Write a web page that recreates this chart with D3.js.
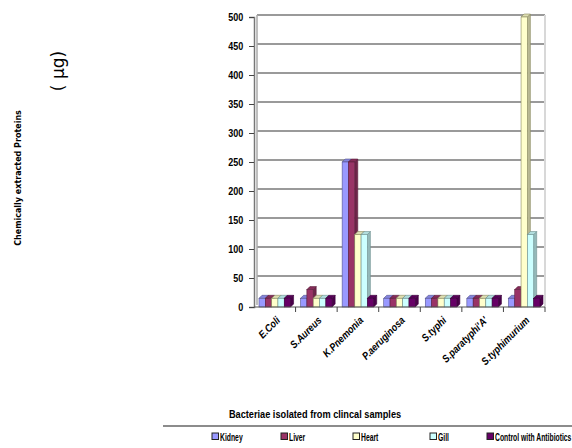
<!DOCTYPE html>
<html>
<head>
<meta charset="utf-8">
<script src="https://cdn.jsdelivr.net/npm/d3@7"></script>
<style>
body { margin: 0; background: #fff; }
text { font-family: "Liberation Sans", Arial, sans-serif; }
.tick text { font-size: 10px; font-weight: bold; fill: #000; }
.xlab { font-size: 10.5px; font-weight: bold; font-style: italic; }
.leg { font-size: 10px; font-weight: bold; }
</style>
</head>
<body>
<div id="chart"></div>
<script>
var categories = ["E.Coli", "S.Aureus", "K.Pnemonia", "P.aeruginosa", "S.typhi", "S.paratyphi'A'", "S.typhimurium"];
var seriesNames = ["Kidney", "Liver", "Heart", "Gill", "Control with Antibiotics"];
var kidney  = [15, 15, 250, 15, 15, 15, 15];
var liver   = [15, 30, 250, 15, 15, 15, 30];
var heart   = [15, 15, 125, 15, 15, 15, 500];
var gill    = [15, 15, 125, 15, 15, 15, 125];
var control = [15, 15, 15, 15, 15, 15, 15];
var yTicks = [0, 50, 100, 150, 200, 250, 300, 350, 400, 450, 500];

var series = [kidney, liver, heart, gill, control];
var colors = ["#9999ff", "#993366", "#ffffcc", "#ccffff", "#660066"];
var edges  = ["#55558f", "#5a1e3c", "#8a8a60", "#6e9090", "#3a003a"];

var W = 572, H = 448;
var x0 = 254, x1 = 545, yb = 307, yt = 17;
var d = 3; // 3d depth

var svg = d3.select("#chart").append("svg").attr("width", W).attr("height", H);

var x = d3.scaleBand().domain(categories).range([x0, x1]);
var inner = d3.scaleBand().domain(d3.range(series.length))
	.range([5, x.bandwidth() - 5]).paddingInner(0);
var y = d3.scaleLinear().domain([0, 500]).range([yb, yt]);

// back wall gridlines
svg.append("g").selectAll("line").data(yTicks.slice(1)).join("line")
	.attr("x1", x0 + d).attr("x2", x1)
	.attr("y1", function(v) { return y(v) - 2; })
	.attr("y2", function(v) { return y(v) - 2; })
	.attr("stroke", "#9a9a9a").attr("stroke-width", 2);
svg.append("line").attr("x1", x1).attr("x2", x1).attr("y1", y(500) - 2).attr("y2", yb)
	.attr("stroke", "#d8d8d8").attr("stroke-width", 2);
svg.append("line").attr("x1", x0 + d).attr("x2", x0 + d).attr("y1", y(500) - 2).attr("y2", yb - 2)
	.attr("stroke", "#aaa").attr("stroke-width", 1.5);

// bars
var g = svg.append("g");
categories.forEach(function(c, ci) {
	series.forEach(function(s, si) {
		var bx = x(c) + inner(si), bw = inner.bandwidth(), top = y(s[ci]);
		g.append("path")
			.attr("d", "M" + (bx + bw) + "," + yb + "L" + (bx + bw) + "," + top +
				"L" + (bx + bw + d) + "," + (top - d) + "L" + (bx + bw + d) + "," + (yb - d) + "Z")
			.attr("fill", d3.color(colors[si]).darker(0.9)).attr("stroke", edges[si]).attr("stroke-width", 0.6);
		g.append("path")
			.attr("d", "M" + bx + "," + top + "L" + (bx + d) + "," + (top - d) +
				"L" + (bx + bw + d) + "," + (top - d) + "L" + (bx + bw) + "," + top + "Z")
			.attr("fill", d3.color(colors[si]).darker(0.4)).attr("stroke", edges[si]).attr("stroke-width", 0.6);
		g.append("rect")
			.attr("x", bx).attr("y", top).attr("width", bw).attr("height", yb - top)
			.attr("fill", colors[si]).attr("stroke", edges[si]).attr("stroke-width", 0.6);
	});
});

// axes
var yAxis = d3.axisLeft(y).tickValues(yTicks).tickSize(5).tickPadding(6);
svg.append("g").attr("transform", "translate(" + x0 + ",0)").call(yAxis)
	.call(function(a) { a.select(".domain").attr("stroke", "#777").attr("stroke-width", 1.5); })
	.call(function(a) { a.selectAll(".tick line").attr("stroke", "#444"); })
	.call(function(a) { a.selectAll(".tick text").attr("transform", "scale(0.9,1)").attr("x", -12); });

var xAxis = d3.axisBottom(x).tickValues(categories).tickSize(5).tickFormat("");
var xa = svg.append("g").attr("transform", "translate(0," + yb + ")").call(xAxis);
xa.select(".domain").attr("stroke", "#555").attr("stroke-width", 1.2).attr("d", "M" + x0 + ",0H" + x1);
xa.selectAll(".tick line").attr("stroke", "#444")
	.attr("transform", "translate(" + (x.bandwidth() / 2) + ",0)");

svg.append("g").selectAll("text").data(categories).join("text")
	.attr("class", "xlab")
	.attr("text-anchor", "end")
	.attr("transform", function(c) {
		return "translate(" + (x(c) + x.bandwidth() / 2 + 6) + "," + (yb + 14) + ") rotate(-45) scale(0.86,1)";
	})
	.text(function(c) { return c; });

// titles
svg.append("text").attr("transform", "translate(315,418) scale(0.8,1)").attr("text-anchor", "middle")
	.attr("font-size", 11.5).attr("font-weight", "bold")
	.text("Bacteriae isolated from clincal samples");

svg.append("text").attr("transform", "translate(21,178) rotate(-90)").attr("text-anchor", "middle")
	.attr("font-size", 8).attr("font-weight", "bold")
	.style("font-family", "'DejaVu Sans', sans-serif")
	.text("Chemically extracted Proteins");

svg.append("text").attr("transform", "translate(64,71) rotate(-90)").attr("text-anchor", "middle")
	.attr("font-size", 17)
	.style("font-family", "'DejaVu Sans', sans-serif")
	.text("( µg)");

// legend
svg.append("line").attr("x1", 163).attr("x2", W).attr("y1", 426).attr("y2", 426)
	.attr("stroke", "#666").attr("stroke-width", 1.5);
var legX = [212, 281, 353, 430, 487];
var leg = svg.append("g").selectAll("g").data(seriesNames).join("g")
	.attr("transform", function(n, i) { return "translate(" + legX[i] + ",440)"; });
leg.append("rect").attr("x", 0).attr("y", -7).attr("width", 6.5).attr("height", 6.5)
	.attr("fill", function(n, i) { return colors[i]; })
	.attr("stroke", "#222").attr("stroke-width", 1);
leg.append("text").attr("class", "leg").attr("transform", "translate(8,0.5) scale(0.68,1)")
	.text(function(n) { return n; });
</script>
</body>
</html>
